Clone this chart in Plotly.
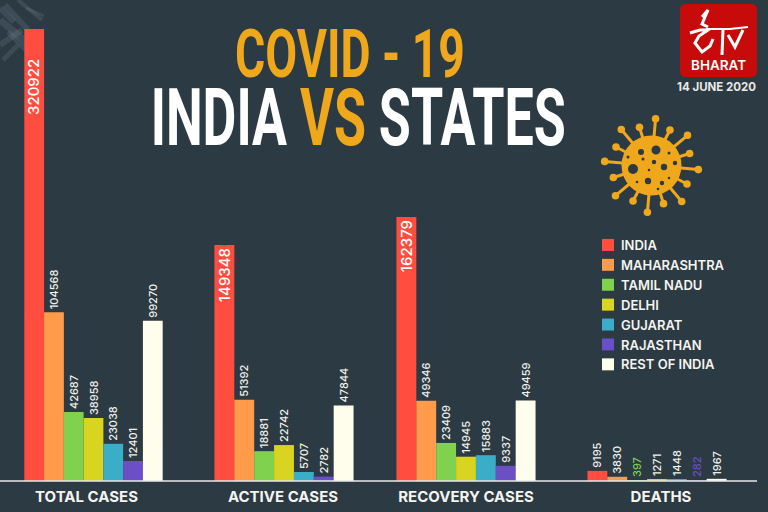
import math
import plotly.graph_objects as go

W, H = 768, 512

metrics = ["TOTAL CASES", "ACTIVE CASES", "RECOVERY CASES", "DEATHS"]
states = ["INDIA", "MAHARASHTRA", "TAMIL NADU", "DELHI", "GUJARAT", "RAJASTHAN", "REST OF INDIA"]

total_cases = [320922, 104568, 42687, 38958, 23038, 12401, 99270]
active_cases = [149348, 51392, 18881, 22742, 5707, 2782, 47844]
recovery_cases = [162379, 49346, 23409, 14945, 15883, 9337, 49459]
deaths = [9195, 3830, 397, 1271, 1448, 282, 1967]
series = [total_cases, active_cases, recovery_cases, deaths]

colors = ["#FF4D3F", "#FF9B4A", "#7FD14E", "#D9D420", "#3AADC9", "#6B4FC6", "#FFFDEB"]
BG = "#2C3A43"
GOLD = "#EFA81B"
FONT = "Inter"

# pixel boxes of the four groups, the picture does not space them evenly
panels = [(-1, 187), (190, 378), (372, 560), (563, 751)]
label_shifts = [-7, -1, 0, 4]
# px per unit differs by panel, the India total bar runs off the top like the original
y_tops = [280000, 286000, 278000, 410000]
BASE_Y, TOP_Y = 481, 29


def px(x):
    return x / W


def py(y):
    return 1 - y / H


fig = go.Figure()
for m, metric in enumerate(metrics):
    suffix = "" if m == 0 else str(m + 1)
    for s, state in enumerate(states):
        value = series[m][s]
        inside = s == 0 and m < 3
        label_color = "#F0F0EA"
        if m == 3 and s == 2:
            label_color = colors[2]
        if m == 3 and s == 5:
            label_color = colors[5]
        # the clipped bar gets its label as an annotation further down
        clipped = m == 0 and s == 0
        fig.add_trace(go.Bar(
            x=[metric], y=[value], name=state,
            marker=dict(color=colors[s], line=dict(width=0)),
            text=None if clipped else [str(value)], textangle=-90,
            textposition="inside" if inside else "outside",
            insidetextanchor="end", constraintext="none",
            textfont=dict(family=FONT, size=15 if inside else 11, color="white" if inside else label_color,
                          weight=500),
            legendgroup=state, showlegend=m == 0, hoverinfo="skip",
            xaxis="x" + suffix, yaxis="y" + suffix,
        ))

layout = dict(
    width=W, height=H, margin=dict(l=0, r=0, t=0, b=0),
    paper_bgcolor=BG, plot_bgcolor="rgba(0,0,0,0)",
    barmode="group", bargap=0.26, bargroupgap=0,
    font=dict(family=FONT, color="white"),
    legend=dict(x=px(581), y=py(230), xanchor="left", yanchor="top",
                bgcolor="rgba(0,0,0,0)", traceorder="normal",
                font=dict(family=FONT, size=13, color="#F4F4F0", weight=600)),
)
for m, (a, b) in enumerate(panels):
    suffix = "" if m == 0 else str(m + 1)
    layout["xaxis" + suffix] = dict(
        domain=[max(px(a), 0), px(b)], anchor="y" + suffix, type="category",
        showgrid=False, showline=False, ticks="outside", ticklen=2, tickcolor="rgba(0,0,0,0)",
        ticklabelshift=label_shifts[m],
        tickfont=dict(family=FONT, size=15, color="#F4F4F0", weight=700),
    )
    layout["yaxis" + suffix] = dict(
        domain=[py(BASE_Y), py(TOP_Y)], anchor="x" + suffix, range=[0, y_tops[m]], visible=False,
    )
fig.update_layout(**layout)


def seg(x0, y0, x1, y1, color, width, **kw):
    return dict(type="line", xref="paper", yref="paper", x0=px(x0), x1=px(x1), y0=py(y0), y1=py(y1),
                line=dict(color=color, width=width), **kw)


def disc(cx, cy, r, color):
    return dict(type="circle", xref="paper", yref="paper", x0=px(cx - r), x1=px(cx + r), y0=py(cy - r), y1=py(cy + r),
                fillcolor=color, line=dict(width=0))


def path(points, **kw):
    d = "M" + " L".join(f"{px(x):.4f},{py(y):.4f}" for x, y in points)
    return dict(type="path", xref="paper", yref="paper", path=d, **kw)


shapes = [seg(0, 481, 757, 481, "#E8E8E8", 1.5)]

# smoke smudge top left
for x0, y0, x1, y1, w in [(0, 20, 30, 45, 7), (5, 5, 28, 30, 6), (0, 45, 22, 30, 6), (18, 0, 42, 20, 4),
                          (3, 60, 18, 45, 5), (26, 8, 44, 16, 3), (0, 8, 14, 22, 6), (8, 32, 26, 50, 5)]:
    shapes.append(seg(x0, y0, x1, y1, "rgba(150,170,178,0.16)", w, layer="below"))

# virus
cx, cy = 651.5, 165.5
for i in range(16):
    a = math.radians(i * 22.5 + 5)
    rr = 47 if i % 2 == 0 else 40
    ex, ey = cx + rr * math.cos(a), cy + rr * math.sin(a)
    shapes.append(seg(cx, cy, ex, ey, GOLD, 3))
    shapes.append(disc(ex, ey, 3.8, GOLD))
shapes.append(disc(cx, cy, 30, GOLD))
for hx, hy, hr in [(656, 150, 4.5), (641, 152, 3), (633, 169, 5), (648, 181, 3.2), (664, 167, 3.2), (675, 163, 2.2),
                   (654, 162, 2.2), (662, 183, 2.2), (628, 157, 1.5), (669, 153, 1.5), (643, 159, 1.5), (649, 170, 1.3),
                   (637, 182, 1.3), (669, 178, 1.3), (658, 189, 1.3)]:
    shapes.append(disc(hx, hy, hr, BG))

# logo
x0, y0, x1, y1, r = 680, 4, 757, 77, 6
logo_path = (f"M{px(x0 + r)},{py(y0)} L{px(x1 - r)},{py(y0)} Q{px(x1)},{py(y0)} {px(x1)},{py(y0 + r)} "
             f"L{px(x1)},{py(y1 - r)} Q{px(x1)},{py(y1)} {px(x1 - r)},{py(y1)} L{px(x0 + r)},{py(y1)} "
             f"Q{px(x0)},{py(y1)} {px(x0)},{py(y1 - r)} L{px(x0)},{py(y0 + r)} Q{px(x0)},{py(y0)} {px(x0 + r)},{py(y0)} Z")
shapes.append(dict(type="path", xref="paper", yref="paper", path=logo_path, fillcolor="#C70A0A", line=dict(width=0)))
white_stroke = dict(line=dict(color="white", width=3), fillcolor="rgba(0,0,0,0)")
shapes.append(path([(702, 17), (708, 10), (702, 24), (708, 27)], **white_stroke))
shapes.append(path([(690, 33), (700, 30), (708, 30), (699, 36), (695, 43), (702, 52), (710, 46), (713, 39)], **white_stroke))
shapes.append(path([(706, 29), (730, 29), (748, 27)], line=dict(color="white", width=2), fillcolor="rgba(0,0,0,0)"))
shapes.append(path([(723, 30), (722, 55)], **white_stroke))
shapes.append(path([(728, 35), (735, 47), (743, 30)], **white_stroke))
fig.update_layout(shapes=shapes)

title_font = "Roboto"
annotations = [
    dict(text="<b>COVID - 19</b>", x=px(350), y=py(54), font=dict(family=title_font, size=66, color=GOLD)),
    dict(text=f"<b>INDIA <span style='color:{GOLD}'>VS</span> STATES</b>", x=px(358), y=py(118),
         font=dict(family=title_font, size=80, color="white")),
    dict(text=str(total_cases[0]), x=px(33), y=py(87), textangle=-90,
         font=dict(family=FONT, size=15, color="white", weight=500)),
    dict(text="BHARAT", x=px(718.5), y=py(65), font=dict(family=FONT, size=13.5, color="white", weight=600)),
    dict(text="<b>14 JUNE 2020</b>", x=px(716), y=py(87), font=dict(family=FONT, size=11.5, color="#E8E8E4")),
]
for a in annotations:
    a.update(xref="paper", yref="paper", showarrow=False, xanchor="center", yanchor="middle")
fig.update_layout(annotations=annotations)

# no page margin, squeeze the two headline rows, nudge legend swatches next to their text
post = """
document.body.style.margin = '0';
document.documentElement.style.background = '%s';
var heads = document.querySelectorAll('.annotation-text');
heads[0].setAttribute('textLength', '230');
heads[0].setAttribute('lengthAdjust', 'spacingAndGlyphs');
heads[1].setAttribute('textLength', '415');
heads[1].setAttribute('lengthAdjust', 'spacingAndGlyphs');
document.querySelectorAll('.legendsymbols').forEach(function (g) { g.setAttribute('transform', 'translate(7,0)'); });
""" % BG
fig.write_html("out.html", post_script=post, config=dict(displayModeBar=False))
